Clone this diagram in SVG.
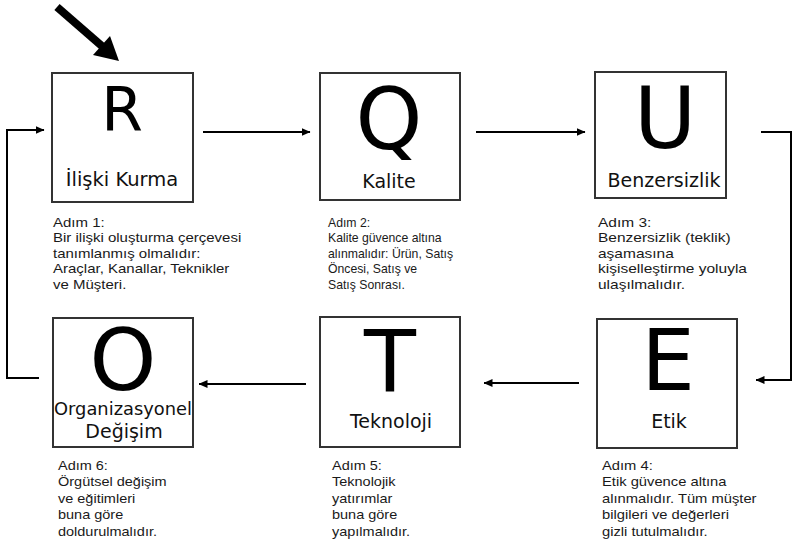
<svg xmlns="http://www.w3.org/2000/svg" width="793" height="547" viewBox="0 0 793 547">
<defs>
<marker id="ah" markerUnits="userSpaceOnUse" markerWidth="9" markerHeight="8" refX="8.5" refY="4" orient="auto">
<path d="M0,0 L9,4 L0,8 z" fill="#000"/>
</marker>
<style>
.box{fill:#fff;stroke:#333;stroke-width:2}
.big{font-family:"DejaVu Sans",Verdana,sans-serif;font-size:85px;fill:#000;text-anchor:middle}
.lbl{font-family:"DejaVu Sans",Verdana,sans-serif;font-size:19px;fill:#111;text-anchor:middle}
.desc{font-family:"Liberation Sans",Arial,sans-serif;font-size:12.5px;fill:#1a1a1a}
.con{fill:none;stroke:#000;stroke-width:2}
</style>
</defs>
<rect width="793" height="547" fill="#fff"/>
<g id="start-arrow">
<line x1="57" y1="7" x2="103" y2="47" stroke="#000" stroke-width="8"/>
<polygon points="119,61 93,55 110,36" fill="#000"/>
</g>
<g id="connectors">
<line class="con" x1="203" y1="132" x2="310" y2="132" marker-end="url(#ah)"/>
<line class="con" x1="476" y1="132" x2="585" y2="132" marker-end="url(#ah)"/>
<polyline class="con" points="761,132 791,132 791,380 756,380" marker-end="url(#ah)"/>
<line class="con" x1="579" y1="383" x2="484" y2="383" marker-end="url(#ah)"/>
<line class="con" x1="306" y1="384" x2="199" y2="384" marker-end="url(#ah)"/>
<polyline class="con" points="39,378 7,378 7,130 44,130" marker-end="url(#ah)"/>
</g>
<g id="node-R">
<rect class="box" x="52" y="73" width="141" height="129"/>
<text class="big" x="122" y="131" style="font-size:60px">R</text>
<text class="lbl" x="122" y="186" style="font-size:19.5px">İlişki Kurma</text>
<text class="desc" transform="translate(53,0) scale(1.2,1)"><tspan x="0" y="227">Adım 1:</tspan><tspan x="0" y="242.5">Bir ilişki oluşturma çerçevesi</tspan><tspan x="0" y="258">tanımlanmış olmalıdır:</tspan><tspan x="0" y="273.5">Araçlar, Kanallar, Teknikler</tspan><tspan x="0" y="289">ve Müşteri.</tspan></text>
</g>
<g id="node-Q">
<rect class="box" x="320" y="73" width="140" height="127"/>
<text class="big" x="389" y="149">Q</text>
<text class="lbl" x="389" y="188">Kalite</text>
<text class="desc" transform="translate(328,0) scale(0.98,1)"><tspan x="0" y="227">Adım 2:</tspan><tspan x="0" y="242.5">Kalite güvence altına</tspan><tspan x="0" y="258">alınmalıdır: Ürün, Satış</tspan><tspan x="0" y="273.5">Öncesi, Satış ve</tspan><tspan x="0" y="289">Satış Sonrası.</tspan></text>
</g>
<g id="node-U">
<rect class="box" x="595" y="72" width="131" height="126"/>
<text class="big" x="665" y="148">U</text>
<text class="lbl" x="664" y="187">Benzersizlik</text>
<text class="desc" transform="translate(598,0) scale(1.24,1)"><tspan x="0" y="227">Adım 3:</tspan><tspan x="0" y="242.5">Benzersizlik (teklik)</tspan><tspan x="0" y="258">aşamasına</tspan><tspan x="0" y="273.5">kişiselleştirme yoluyla</tspan><tspan x="0" y="289">ulaşılmalıdır.</tspan></text>
</g>
<g id="node-E">
<rect class="box" x="597" y="319" width="140" height="129"/>
<text class="big" x="668" y="390">E</text>
<text class="lbl" x="669" y="428">Etik</text>
<text class="desc" transform="translate(602,0) scale(1.18,1)"><tspan x="0" y="470">Adım 4:</tspan><tspan x="0" y="486.5">Etik güvence altına</tspan><tspan x="0" y="503">alınmalıdır. Tüm müşter</tspan><tspan x="0" y="519.5">bilgileri ve değerleri</tspan><tspan x="0" y="536">gizli tutulmalıdır.</tspan></text>
</g>
<g id="node-T">
<rect class="box" x="320" y="317" width="140" height="130"/>
<text class="big" x="390" y="391">T</text>
<text class="lbl" x="391" y="428">Teknoloji</text>
<text class="desc" transform="translate(332,0) scale(1.16,1)"><tspan x="0" y="470">Adım 5:</tspan><tspan x="0" y="486.5">Teknolojik</tspan><tspan x="0" y="503">yatırımlar</tspan><tspan x="0" y="519.5">buna göre</tspan><tspan x="0" y="536">yapılmalıdır.</tspan></text>
</g>
<g id="node-O">
<rect class="box" x="53" y="318" width="140" height="129"/>
<text class="big" x="123" y="390">O</text>
<text class="lbl" x="123" y="415" style="font-size:17px" textLength="138" lengthAdjust="spacingAndGlyphs">Organizasyonel</text>
<text class="lbl" x="124" y="438">Değişim</text>
<text class="desc" transform="translate(58,0) scale(1.16,1)"><tspan x="0" y="470">Adım 6:</tspan><tspan x="0" y="486.5">Örgütsel değişim</tspan><tspan x="0" y="503">ve eğitimleri</tspan><tspan x="0" y="519.5">buna göre</tspan><tspan x="0" y="536">doldurulmalıdır.</tspan></text>
</g>
</svg>
